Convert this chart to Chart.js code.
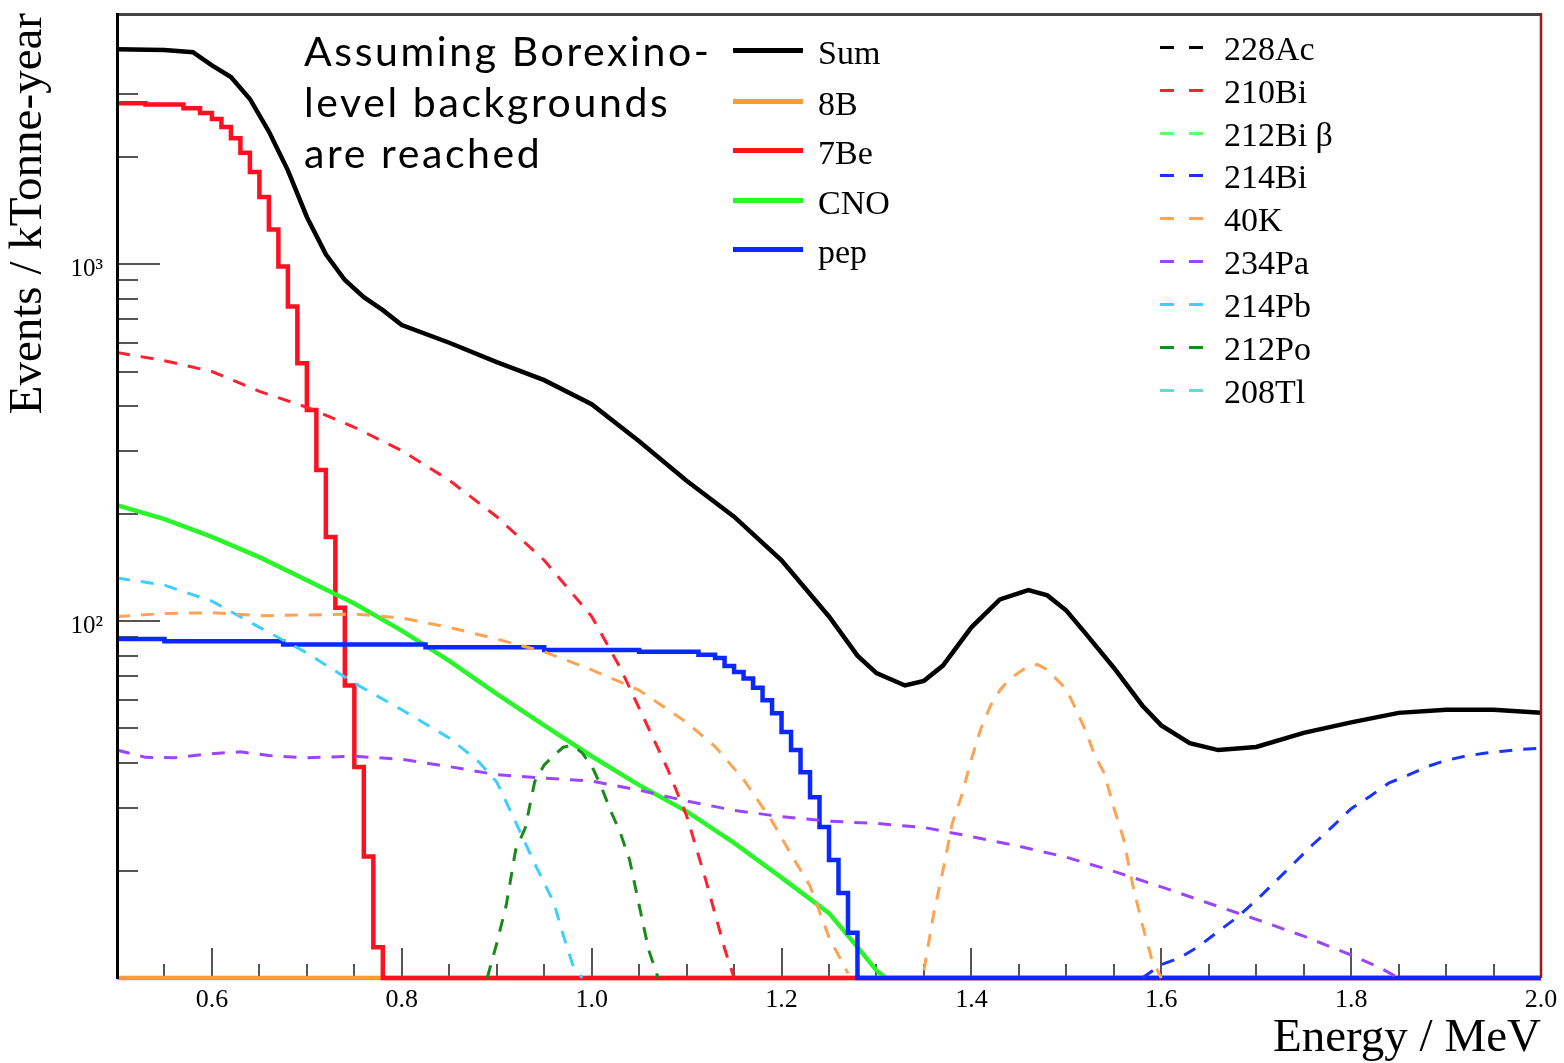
<!DOCTYPE html>
<html><head><meta charset="utf-8">
<script src="https://cdn.jsdelivr.net/npm/chart.js@4.4.1/dist/chart.umd.min.js"></script>
<style>
html,body{margin:0;padding:0;background:#fff;}
#wrap{position:relative;width:1564px;height:1063px;overflow:hidden;}
#c{position:absolute;left:0;top:0;}
.ann{position:absolute;left:304px;top:25px;font-family:Lato,sans-serif;font-size:41px;letter-spacing:2.6px;line-height:51px;color:#000;white-space:nowrap;}
.lg{position:absolute;font-family:'Liberation Serif',serif;font-size:34px;line-height:34px;color:#000;white-space:nowrap;}
.sw{position:absolute;height:5px;width:70px;left:733px;}
.ds{position:absolute;height:3px;width:14px;}
</style></head><body>
<div id="wrap"><canvas id="c" width="1564" height="1063"></canvas>
<div class="ann">Assuming Borexino-<br>level backgrounds<br>are reached</div>
<div id="legend"></div>
</div>
<script>
// ---------- data (Energy / MeV, Events / kTonne-year) ----------
const sumE = [0.50,0.55,0.58,0.60,0.62,0.64,0.66,0.68,0.70,0.72,0.74,0.76,0.78,0.80,0.85,0.90,0.95,1.00,1.05,1.10,1.15,1.20,1.25,1.28,1.30,1.33,1.35,1.37,1.40,1.43,1.46,1.48,1.50,1.52,1.55,1.58,1.60,1.63,1.66,1.70,1.75,1.80,1.85,1.90,1.95,2.00];
const sumV = [4000,3980,3920,3600,3340,2900,2350,1830,1355,1065,902,808,743,675,602,531,473,405,319,247,196,148,103,80,71.5,66,68,75,96,115,122,118,107,92.5,74,58,51,45.5,43.5,44.4,48.6,52,55.3,56.4,56.4,55.3];

const b8E = [0.50,2.00];
const b8V = [10,10];

const be7E = [0.50,0.56,0.58,0.595,0.605,0.615,0.625,0.635,0.645,0.655,0.665,0.675,0.685,0.695,0.705,0.715,0.725,0.735,0.745,0.755,0.765,0.775,0.785,2.00];
const be7V = [2820,2800,2730,2650,2550,2420,2250,2050,1810,1540,1250,985,760,527,390,265,172,109,66,39,21.9,12.2,10,10];

const cnoE = [0.50,0.55,0.60,0.65,0.70,0.75,0.80,0.85,0.90,0.95,1.00,1.05,1.10,1.15,1.20,1.25,1.28,1.30,1.31];
const cnoV = [211,193,172,151,130,112,94,77.3,62.5,51,41.8,34.7,29.3,23.9,19.1,15.2,12.2,10.5,10];

const pepE = [0.50,0.60,0.75,0.90,1.00,1.10,1.125,1.135,1.145,1.155,1.165,1.175,1.185,1.195,1.205,1.215,1.225,1.235,1.245,1.255,1.265,1.275,1.285,2.00];
const pepV = [89,87.8,86,84.5,83,82,80.5,78.8,74.8,72,69,65,60,55.2,48.9,43.5,37.7,32.1,26.5,21.4,17.3,13.4,10,10];

const bi210E = [0.50,0.55,0.60,0.65,0.70,0.75,0.80,0.85,0.90,0.95,1.00,1.03,1.05,1.08,1.10,1.12,1.14,1.15];
const bi210V = [565,536,500,440,397,349,300,248,196,148,103,74,57,38.5,28.5,18.9,12.1,10];

const bi214E = [1.58,1.60,1.62,1.64,1.66,1.68,1.70,1.72,1.74,1.76,1.78,1.80,1.82,1.84,1.86,1.88,1.90,1.92,1.94,1.96,1.98,2.00];
const bi214V = [10,10.9,11.4,12.3,13.5,14.8,16.5,18.6,21,23.7,26.5,29.8,32.3,35.2,37,39.1,40.7,41.8,42.6,43.2,43.7,44];

const k40E = [0.50,0.55,0.60,0.65,0.70,0.75,0.80,0.85,0.90,0.95,1.00,1.05,1.10,1.13,1.16,1.19,1.21,1.23,1.25,1.27,1.31,1.35,1.36,1.37,1.38,1.39,1.40,1.41,1.42,1.43,1.44,1.46,1.47,1.48,1.50,1.51,1.52,1.53,1.54,1.55,1.56,1.57,1.58,1.59,1.60];
const k40V = [103,105,105.5,103.5,104,104.6,102,96,89,82,73,64,52,44.5,36,27.5,22.2,18.1,13,10.3,null,10.5,15,20,27.2,32.6,41,50,57.8,64,68.8,74.8,75.5,72.9,64.4,56.7,49.5,42,37.5,30,24.7,18.2,14.1,11.3,10];

const pa234E = [0.50,0.53,0.56,0.60,0.63,0.66,0.70,0.75,0.80,0.85,0.90,0.95,1.00,1.05,1.10,1.15,1.20,1.25,1.30,1.35,1.40,1.45,1.50,1.55,1.60,1.65,1.70,1.75,1.80,1.83,1.85];
const pa234V = [43.5,41.5,41.4,42.5,43,42,41.4,41.8,41,39.1,37.1,36.3,35.6,33.6,31.3,29.5,28.3,27.5,27.1,26.4,24.9,23.4,21.8,19.9,18,16.2,14.6,13.1,11.6,10.7,10];

const pb214E = [0.50,0.55,0.60,0.65,0.70,0.75,0.80,0.85,0.88,0.90,0.92,0.94,0.96,0.97,0.98,0.99];
const pb214V = [132,126,113.7,96,81.4,67,56.4,47,40.6,35.4,27.3,20.9,16.3,13.2,10.9,10];

const po212E = [0.89,0.90,0.91,0.92,0.93,0.94,0.95,0.96,0.97,0.98,0.99,1.00,1.01,1.02,1.03,1.04,1.05,1.06,1.07];
const po212V = [10,12.5,16,22.9,26.3,35.5,39.5,42,44.3,44.9,42.7,39.3,34.4,29.4,25.6,21.4,16,12,10];

const ac228E = [], ac228V = [];
const bi212E = [], bi212V = [];
const tl208E = [], tl208V = [];

const xTickLabels = ['0.6','0.8','1.0','1.2','1.4','1.6','1.8','2.0'];
const yTickLabels = {100:'10\u00b2', 1000:'10\u00b3'};

// ---------- legend ----------
const solidNames = ['Sum','8B','7Be','CNO','pep'];
const solidColors = ['#000000','#ff9933','#ff1020','#2af52a','#0a28ff'];
const dashNames = ['228Ac','210Bi','212Bi \u03b2','214Bi','40K','234Pa','214Pb','212Po','208Tl'];
const dashColors = ['#000000','#ff2030','#66ff66','#1a33ff','#ffa352','#9b45ff','#3fcfff','#1a8a1a','#66d9d9'];

const solidY = [50,101,150,200,249];
const dashY = [47,90,133,175,218,261,304,347,390];
const lg = document.getElementById('legend');
solidNames.forEach((n,i)=>{
  const s=document.createElement('div'); s.className='sw'; s.style.top=(solidY[i]-2.5)+'px'; s.style.background=solidColors[i]; lg.appendChild(s);
  const t=document.createElement('div'); t.className='lg'; t.style.left='818px'; t.style.top=(solidY[i]-14)+'px'; t.textContent=n; lg.appendChild(t);
});
dashNames.forEach((n,i)=>{
  [1160,1189].forEach(x=>{const d=document.createElement('div'); d.className='ds'; d.style.left=x+'px'; d.style.top=(dashY[i]-1.5)+'px'; d.style.background=dashColors[i]; lg.appendChild(d);});
  const t=document.createElement('div'); t.className='lg'; t.style.left='1224px'; t.style.top=(dashY[i]-15)+'px'; t.textContent=n; lg.appendChild(t);
});

// ---------- chart ----------
function mk(label, E, V, color, width, dashed, stepped){
  return {label, data:E.map((e,i)=>({x:e,y:V[i]})), borderColor:color, backgroundColor:color,
    borderWidth:width, borderDash: dashed?[13,11]:[], pointRadius:0, fill:false,
    stepped: stepped?'middle':false, tension:0, spanGaps:false,
    clip:{left:0,right:0,top:0,bottom:3}};
}
const datasets = [
  mk('228Ac', ac228E, ac228V, dashColors[0], 3, true),
  mk('210Bi', bi210E, bi210V, dashColors[1], 3, true),
  mk('212Bi β', bi212E, bi212V, dashColors[2], 3, true),
  mk('214Bi', bi214E, bi214V, dashColors[3], 3, true),
  mk('40K', k40E, k40V, dashColors[4], 3, true),
  mk('234Pa', pa234E, pa234V, dashColors[5], 3, true),
  mk('214Pb', pb214E, pb214V, dashColors[6], 3, true),
  mk('212Po', po212E, po212V, dashColors[7], 3, true),
  mk('208Tl', tl208E, tl208V, dashColors[8], 3, true),
  mk('pep', pepE, pepV, solidColors[4], 4.5, false, true),
  mk('CNO', cnoE, cnoV, solidColors[3], 4.5, false),
  mk('7Be', be7E, be7V, solidColors[2], 4.5, false, true),
  mk('8B', b8E, b8V, solidColors[1], 4.5, false),
  mk('Sum', sumE, sumV, solidColors[0], 4.5, false)
];

const frameTicks = {
  id:'frameTicks',
  beforeDatasetsDraw(chart){
    const {ctx, chartArea:a, scales:{x,y}} = chart;
    ctx.save();
    ctx.strokeStyle='#000'; ctx.lineWidth=2;
    ctx.beginPath(); ctx.moveTo(a.left,a.bottom); ctx.lineTo(a.right,a.bottom); ctx.stroke();
    ctx.strokeStyle='#555'; ctx.lineWidth=2;
    for(let d=1; d<=3; d++){
      for(let m=1; m<=9; m++){
        const v=m*Math.pow(10,d);
        if(v<=y.min || v>y.max) continue;
        const py=Math.round(y.getPixelForValue(v));
        const len = m===1 ? 43 : 21;
        ctx.beginPath(); ctx.moveTo(a.left,py); ctx.lineTo(a.left+len,py); ctx.stroke();
      }
    }
    for(let k=1;k<30;k++){
      const v=0.5+0.05*k;
      const px=Math.round(x.getPixelForValue(v));
      const len = (k%4===2) ? 30 : 14;
      ctx.beginPath(); ctx.moveTo(px,a.bottom); ctx.lineTo(px,a.bottom-len); ctx.stroke();
    }
    ctx.restore();
  },
  afterDraw(chart){
    const {ctx, chartArea:a} = chart;
    ctx.save();
    ctx.lineWidth=3; ctx.strokeStyle='#444';
    ctx.beginPath(); ctx.moveTo(a.left,a.top+1.5); ctx.lineTo(a.right,a.top+1.5); ctx.stroke();
    ctx.strokeStyle='#9b1b1b'; ctx.lineWidth=2.5;
    ctx.beginPath(); ctx.moveTo(a.right,a.top); ctx.lineTo(a.right,a.bottom); ctx.stroke();
    ctx.strokeStyle='#000'; ctx.lineWidth=3;
    ctx.beginPath(); ctx.moveTo(a.left+0.5,a.top); ctx.lineTo(a.left+0.5,a.bottom+1); ctx.stroke();
    ctx.restore();
  }
};

new Chart(document.getElementById('c'), {
  type:'line',
  data:{datasets},
  options:{
    responsive:false, animation:false, devicePixelRatio:1,
    layout:{padding:{top:13,right:23,left:0,bottom:0}},
    plugins:{legend:{display:false}, tooltip:{enabled:false}},
    scales:{
      x:{type:'linear', min:0.5, max:2.0,
        grid:{display:false, drawTicks:false}, border:{display:false},
        ticks:{stepSize:0.05, autoSkip:false, maxRotation:0, padding:7, color:'#000',
          font:{family:'Liberation Serif', size:26},
          callback:(v)=>{const r=Math.round(v*100); if(r%20===0 && r>=60){return xTickLabels[(r-60)/20];} return '';}},
        title:{display:true, text:'Energy / MeV', align:'end', color:'#000',
          font:{family:'Liberation Serif', size:47, lineHeight:1}, padding:{top:0,bottom:1}},
        afterFit:(s)=>{s.height=85; s.paddingLeft=0; s.paddingRight=0;}
      },
      y:{type:'logarithmic', min:10, max:5050,
        grid:{display:false, drawTicks:false}, border:{display:false},
        ticks:{autoSkip:false, padding:14, labelOffset:5, color:'#000',
          font:{family:'Liberation Serif', size:25},
          callback:(v)=>{const r=Math.round(v); return yTickLabels[r] && Math.abs(v-r)<1e-6 ? yTickLabels[r] : '';}},
        title:{display:true, text:'Events / kTonne-year', align:'end', color:'#000',
          font:{family:'Liberation Serif', size:47, lineHeight:1}, padding:{top:5,bottom:0}},
        afterFit:(s)=>{s.width=117; s.paddingTop=0; s.paddingBottom=0;}
      }
    }
  },
  plugins:[frameTicks]
});
</script>
</body></html>
